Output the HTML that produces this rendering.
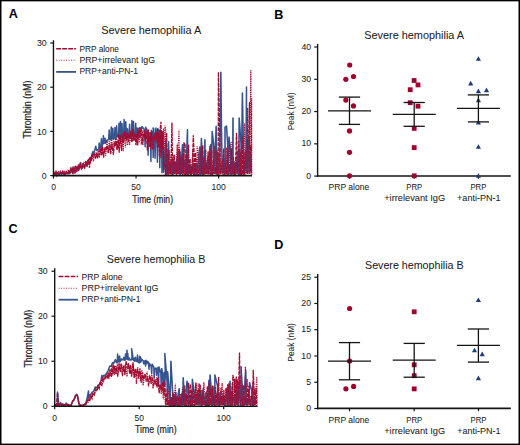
<!DOCTYPE html>
<html><head><meta charset="utf-8"><style>
html,body{margin:0;padding:0;background:#fff;}
body{width:520px;height:445px;overflow:hidden;font-family:"Liberation Sans",sans-serif;}
</style></head><body>
<svg width="520" height="445" viewBox="0 0 520 445" style="display:block;font-family:'Liberation Sans',sans-serif">
<rect x="0" y="0" width="520" height="445" fill="#fff"/>
<text x="8.8" y="18.4" font-size="12.6" text-anchor="start" font-weight="bold" fill="#000" stroke="#000" stroke-width="0">A</text>
<text x="274.3" y="18.6" font-size="12.6" text-anchor="start" font-weight="bold" fill="#000" stroke="#000" stroke-width="0">B</text>
<text x="8.6" y="233.2" font-size="12.6" text-anchor="start" font-weight="bold" fill="#000" stroke="#000" stroke-width="0">C</text>
<text x="274.3" y="249" font-size="12.6" text-anchor="start" font-weight="bold" fill="#000" stroke="#000" stroke-width="0">D</text>
<text x="101.2" y="34.2" font-size="10.6" text-anchor="start" font-weight="normal" fill="#222222" stroke="#222222" stroke-width="0.05" textLength="100.0" lengthAdjust="spacingAndGlyphs">Severe hemophilia A</text>
<text x="364.2" y="38.5" font-size="10.6" text-anchor="start" font-weight="normal" fill="#222222" stroke="#222222" stroke-width="0.05" textLength="99.9" lengthAdjust="spacingAndGlyphs">Severe hemophilia A</text>
<text x="106.8" y="262.8" font-size="10.6" text-anchor="start" font-weight="normal" fill="#222222" stroke="#222222" stroke-width="0.05" textLength="98.6" lengthAdjust="spacingAndGlyphs">Severe hemophilia B</text>
<text x="365.0" y="268.5" font-size="10.6" text-anchor="start" font-weight="normal" fill="#222222" stroke="#222222" stroke-width="0.05" textLength="98.6" lengthAdjust="spacingAndGlyphs">Severe hemophilia B</text>
<path d="M53.8,173.6 L55.8,174.5 L57.1,172.8 L58.7,174.6 L60.6,173.5 L61.7,174.3 L63.2,172.1 L64.2,174.9 L66.1,173.0 L68.2,173.4 L69.2,172.1 L70.9,172.4 L72.4,168.5 L72.9,173.7 L74.9,167.5 L75.5,172.5 L77.6,166.5 L78.4,169.9 L80.7,162.6 L81.5,169.1 L83.4,164.1 L84.3,167.1 L86.7,162.3 L87.4,162.7 L89.9,157.6 L90.4,160.2 L92.8,151.6 L93.6,154.3 L95.8,146.3 L96.6,150.4 L98.7,149.1 L99.2,143.0 L99.7,149.9 L100.9,145.1 L101.4,138.8 L101.9,147.4 L102.9,143.1 L103.4,135.7 L103.9,143.5 L104.6,143.0 L105.1,138.3 L105.6,143.2 L106.3,141.6 L106.8,140.2 L107.3,140.9 L108.7,138.7 L109.2,130.0 L109.7,139.8 L110.8,139.5 L111.3,127.1 L111.8,138.9 L112.4,138.7 L112.9,128.3 L113.4,139.3 L114.5,137.6 L115.0,127.6 L115.5,139.8 L116.1,138.7 L116.6,125.7 L117.1,136.5 L118.5,135.6 L119.0,123.3 L119.5,136.2 L120.0,138.9 L120.5,121.4 L121.0,137.8 L121.5,135.6 L122.0,123.5 L122.5,138.1 L123.6,138.0 L124.1,119.6 L124.6,136.4 L125.3,136.3 L125.8,121.8 L126.3,136.5 L127.0,138.0 L127.5,128.8 L128.0,137.5 L129.1,134.3 L129.6,124.3 L130.1,137.7 L131.4,137.5 L131.9,120.5 L132.4,135.6 L133.0,133.4 L133.5,121.6 L134.0,137.1 L135.2,136.3 L135.7,123.2 L136.2,135.2 L136.7,137.8 L137.2,128.0 L137.7,137.8 L139.1,128.0 L139.6,137.6 L140.1,127.5 L141.3,131.5 L141.8,126.8 L142.3,127.0 L144.6,130.0 L145.1,146.8 L145.6,127.2 L147.6,131.3 L148.1,155.2 L148.6,133.9 L150.4,132.6 L150.9,161.6 L151.4,130.3 L152.7,132.7 L153.2,157.4 L153.7,128.4 L153.0,128.0 L154.6,136.7 L155.1,158.2 L155.6,130.1 L156.0,128.0 L156.9,137.5 L157.4,162.2 L157.9,128.8 L159.3,130.9 L159.8,167.7 L160.3,129.7 L161.5,134.3 L162.0,172.7 L162.5,132.1 L163.6,172.3 L166.0,139.9 L166.5,174.3 L168.6,141.8 L169.1,172.1 L171.8,161.7 L172.3,175.2 L174.1,163.3 L174.7,172.9 L177.4,157.1 L177.9,172.9 L180.1,151.9 L180.5,175.3 L182.5,144.7 L183.0,172.5 L185.3,159.3 L185.9,172.9 L187.5,129.7 L187.6,150.5 L188.0,175.2 L190.7,165.1 L191.2,172.4 L193.4,163.5 L193.8,174.8 L196.4,164.0 L197.0,174.4 L199.8,146.9 L200.3,174.8 L201.4,138.4 L202.6,164.2 L203.1,175.5 L204.8,144.9 L204.9,139.7 L205.3,173.7 L207.5,159.3 L207.9,172.7 L210.8,144.6 L211.2,174.9 L212.2,131.6 L213.6,144.1 L214.1,173.4 L216.2,126.2 L216.6,160.1 L217.1,174.6 L219.1,164.0 L219.6,172.4 L220.8,72.2 L221.8,150.8 L222.3,172.5 L224.5,158.6 L225.0,174.6 L225.0,127.0 L226.5,126.0 L227.7,144.7 L228.1,174.5 L229.0,137.0 L230.5,151.8 L231.0,174.8 L232.7,159.4 L233.0,118.0 L233.1,173.7 L234.9,163.2 L235.5,174.6 L238.1,152.3 L238.7,175.0 L239.2,118.0 L241.0,143.8 L241.4,172.1 L242.4,93.0 L243.3,143.7 L243.9,172.5 L246.0,161.1 L246.5,87.0 L246.5,172.0 L248.6,139.0 L249.0,172.0 L250.8,154.6 L251.4,172.4" fill="none" stroke="#36548f" stroke-width="1.5" stroke-linejoin="round"/>
<path d="M53.8,172.6 L54.9,174.8 L56.1,172.0 L56.9,175.6 L58.2,172.4 L59.1,173.2 L60.2,171.5 L61.3,174.1 L62.1,171.7 L63.5,174.3 L64.8,171.6 L65.6,173.7 L66.7,171.7 L67.5,172.9 L68.5,169.6 L69.9,172.6 L71.4,168.7 L72.7,173.0 L74.1,166.3 L74.9,174.0 L75.8,165.5 L76.9,170.7 L77.8,166.0 L78.8,171.0 L80.0,164.7 L81.4,168.4 L82.8,163.0 L84.3,167.7 L85.1,161.7 L86.6,165.2 L87.7,159.9 L88.6,164.5 L89.8,159.6 L90.5,162.1 L92.0,157.6 L93.4,161.4 L94.2,154.5 L95.5,157.1 L96.2,152.0 L97.0,157.4 L98.0,149.8 L99.4,157.7 L100.9,150.2 L101.7,155.6 L102.4,149.3 L103.5,154.3 L104.3,148.4 L105.7,155.6 L107.1,141.1 L108.1,152.7 L109.3,141.2 L110.4,150.5 L111.6,138.1 L112.7,150.9 L114.0,141.4 L114.9,144.6 L116.1,138.4 L116.8,149.7 L117.9,140.9 L119.1,146.2 L119.9,135.3 L121.0,144.7 L122.0,133.2 L123.2,151.1 L124.0,132.8 L125.5,147.5 L126.5,132.7 L127.5,145.3 L128.4,133.7 L129.6,145.0 L130.6,130.4 L131.4,141.8 L132.6,133.1 L133.5,138.9 L134.4,133.5 L135.5,139.6 L136.3,132.3 L137.2,137.8 L138.3,128.3 L139.1,142.7 L140.3,127.8 L141.4,144.4 L142.2,130.5 L143.1,138.7 L144.4,133.5 L145.4,139.6 L146.6,129.2 L147.6,148.9 L148.5,129.5 L149.4,147.1 L150.5,132.8 L151.5,140.2 L152.3,136.6 L153.8,141.4 L155.2,132.3 L156.7,141.4 L157.6,128.6 L158.9,146.8 L160.0,133.7 L161.0,158.4 L161.8,130.8 L162.7,149.1 L163.5,128.3 L163.8,169.3 L165.0,125.7 L165.6,129.5 L165.9,175.6 L167.6,157.7 L167.9,173.7 L169.4,150.4 L169.8,174.0 L171.1,156.9 L171.5,174.4 L173.2,155.1 L173.5,174.3 L175.2,161.4 L175.6,173.5 L177.3,143.7 L177.5,174.2 L179.0,129.7 L179.3,165.2 L179.5,175.0 L181.0,155.5 L181.3,174.0 L182.5,165.4 L182.7,175.3 L183.9,141.8 L184.3,175.4 L185.7,159.1 L186.0,174.9 L187.6,152.7 L187.9,175.2 L189.3,164.4 L189.6,174.2 L191.0,165.7 L191.3,174.9 L192.8,149.4 L193.1,174.1 L194.7,158.0 L195.0,174.7 L196.6,158.3 L197.0,174.8 L197.2,146.2 L198.3,155.7 L198.6,175.5 L200.0,158.2 L200.4,173.9 L201.8,147.3 L202.2,175.1 L203.6,165.1 L204.0,174.4 L205.8,149.8 L206.1,174.3 L207.6,165.6 L208.0,175.6 L209.2,150.2 L209.4,175.4 L210.6,147.7 L210.9,175.6 L212.6,165.2 L213.0,174.4 L214.7,146.1 L215.0,174.1 L216.2,150.0 L216.5,174.3 L217.7,150.0 L218.1,175.5 L219.4,154.0 L219.8,175.1 L221.1,161.3 L221.4,174.1 L222.8,158.1 L223.1,174.9 L224.5,165.0 L224.8,173.6 L226.2,147.6 L226.5,174.2 L228.2,149.0 L228.5,174.6 L230.1,142.5 L230.4,175.4 L232.0,141.3 L232.3,174.6 L234.0,161.1 L234.3,175.2 L235.8,157.2 L236.1,174.0 L237.9,157.5 L238.3,174.6 L240.0,148.7 L240.3,175.1 L241.4,151.5 L241.7,175.2 L243.1,155.9 L243.5,175.3 L244.6,123.5 L245.3,150.8 L245.6,174.5 L247.4,139.9 L247.6,108.0 L247.7,174.4 L249.3,138.3 L249.6,173.8 L250.8,70.3 L251.5,150.1 L251.6,98.0 L251.7,175.0" fill="none" stroke="#a40d33" stroke-width="1.3" stroke-dasharray="1.2,1"/>
<path d="M53.8,171.6 L55.2,175.5 L56.0,171.7 L57.3,174.0 L58.3,171.9 L59.4,174.2 L60.3,172.1 L61.3,173.8 L62.8,171.2 L63.9,174.5 L64.8,172.6 L65.6,174.4 L66.5,171.7 L67.9,173.8 L69.1,170.4 L69.8,174.2 L70.6,168.7 L72.1,172.1 L73.0,166.7 L74.3,171.2 L75.7,166.2 L77.0,171.9 L78.5,164.3 L79.3,168.8 L80.6,164.9 L81.7,169.3 L83.2,164.0 L84.5,169.2 L85.9,160.9 L87.0,167.0 L88.4,159.2 L89.5,167.8 L90.5,157.0 L91.3,160.7 L92.2,153.8 L93.2,158.0 L94.4,153.5 L95.5,158.6 L96.7,153.0 L97.6,158.5 L99.0,150.3 L99.8,155.2 L101.1,147.2 L101.9,154.3 L102.7,146.6 L103.6,157.6 L105.0,147.3 L106.1,150.3 L107.0,145.3 L108.4,152.9 L109.7,144.6 L110.7,154.1 L111.9,143.3 L113.4,154.8 L114.6,142.5 L115.6,146.1 L116.4,140.7 L117.6,149.7 L118.4,134.0 L119.2,152.7 L120.2,135.2 L121.5,150.9 L122.5,138.0 L123.5,142.6 L124.8,131.0 L126.1,140.5 L127.4,133.3 L128.3,141.8 L129.2,135.2 L130.3,138.8 L131.1,131.5 L132.1,142.2 L132.9,128.7 L133.8,140.9 L134.9,134.6 L136.0,145.3 L136.8,134.1 L137.6,145.5 L138.8,130.5 L140.3,136.3 L141.8,132.5 L142.8,144.9 L144.0,130.2 L145.3,140.7 L146.2,132.1 L147.4,150.4 L148.1,132.6 L148.9,142.0 L149.8,135.5 L150.7,149.4 L151.5,131.8 L152.6,149.5 L153.8,134.6 L155.2,140.4 L156.5,132.2 L157.6,147.8 L158.4,132.3 L159.5,156.2 L160.3,127.5 L161.0,121.8 L161.3,152.9 L162.7,130.9 L163.6,168.7 L165.0,162.2 L165.4,175.3 L166.7,133.0 L167.1,175.6 L168.5,149.9 L168.8,175.0 L170.4,162.3 L170.7,174.6 L172.0,122.6 L172.5,163.0 L172.8,175.1 L174.4,154.7 L174.7,173.9 L176.1,162.9 L176.3,175.4 L178.1,148.9 L178.5,174.1 L179.6,148.8 L180.0,174.0 L181.4,157.3 L181.7,173.9 L183.1,153.2 L183.4,173.6 L183.9,143.9 L185.1,143.3 L185.5,175.0 L186.7,154.9 L187.0,174.7 L188.6,144.8 L189.0,174.0 L190.1,158.9 L190.5,175.3 L192.0,166.1 L192.2,173.9 L193.3,135.2 L194.1,152.8 L194.3,175.1 L195.6,152.6 L195.9,174.8 L197.4,165.4 L197.8,173.9 L199.4,165.7 L199.8,174.3 L201.1,147.4 L201.4,174.3 L202.8,145.1 L203.2,174.5 L204.4,157.8 L204.6,174.5 L206.4,163.8 L206.7,174.7 L208.1,151.6 L208.5,174.3 L210.0,145.9 L210.2,174.2 L211.9,150.5 L212.2,175.2 L213.8,158.7 L214.1,173.8 L215.7,167.6 L216.0,174.3 L217.8,152.3 L218.2,175.6 L218.4,72.2 L220.0,149.8 L220.3,173.8 L222.1,164.8 L222.4,174.1 L223.7,148.4 L224.0,175.2 L225.7,163.5 L226.1,174.7 L227.4,152.0 L227.7,175.2 L229.5,164.7 L229.8,174.6 L231.5,148.5 L231.9,174.5 L233.5,157.0 L233.7,174.5 L234.9,164.0 L235.2,175.2 L236.5,133.0 L236.9,143.6 L237.2,174.1 L238.9,140.8 L239.2,175.2 L240.6,152.1 L240.8,175.6 L242.4,136.8 L242.7,174.3 L244.1,152.2 L244.4,174.9 L246.0,150.6 L246.4,173.4 L247.5,139.8 L247.8,174.0 L249.5,102.0 L249.5,144.6 L249.8,173.5 L251.0,144.9 L251.3,174.3" fill="none" stroke="#a20b32" stroke-width="1.3" stroke-dasharray="4,1"/>
<clipPath id="c1"><rect x="164" y="60" width="92" height="116"/></clipPath>
<path d="M53.8,173.6 L55.8,174.5 L57.1,172.8 L58.7,174.6 L60.6,173.5 L61.7,174.3 L63.2,172.1 L64.2,174.9 L66.1,173.0 L68.2,173.4 L69.2,172.1 L70.9,172.4 L72.4,168.5 L72.9,173.7 L74.9,167.5 L75.5,172.5 L77.6,166.5 L78.4,169.9 L80.7,162.6 L81.5,169.1 L83.4,164.1 L84.3,167.1 L86.7,162.3 L87.4,162.7 L89.9,157.6 L90.4,160.2 L92.8,151.6 L93.6,154.3 L95.8,146.3 L96.6,150.4 L98.7,149.1 L99.2,143.0 L99.7,149.9 L100.9,145.1 L101.4,138.8 L101.9,147.4 L102.9,143.1 L103.4,135.7 L103.9,143.5 L104.6,143.0 L105.1,138.3 L105.6,143.2 L106.3,141.6 L106.8,140.2 L107.3,140.9 L108.7,138.7 L109.2,130.0 L109.7,139.8 L110.8,139.5 L111.3,127.1 L111.8,138.9 L112.4,138.7 L112.9,128.3 L113.4,139.3 L114.5,137.6 L115.0,127.6 L115.5,139.8 L116.1,138.7 L116.6,125.7 L117.1,136.5 L118.5,135.6 L119.0,123.3 L119.5,136.2 L120.0,138.9 L120.5,121.4 L121.0,137.8 L121.5,135.6 L122.0,123.5 L122.5,138.1 L123.6,138.0 L124.1,119.6 L124.6,136.4 L125.3,136.3 L125.8,121.8 L126.3,136.5 L127.0,138.0 L127.5,128.8 L128.0,137.5 L129.1,134.3 L129.6,124.3 L130.1,137.7 L131.4,137.5 L131.9,120.5 L132.4,135.6 L133.0,133.4 L133.5,121.6 L134.0,137.1 L135.2,136.3 L135.7,123.2 L136.2,135.2 L136.7,137.8 L137.2,128.0 L137.7,137.8 L139.1,128.0 L139.6,137.6 L140.1,127.5 L141.3,131.5 L141.8,126.8 L142.3,127.0 L144.6,130.0 L145.1,146.8 L145.6,127.2 L147.6,131.3 L148.1,155.2 L148.6,133.9 L150.4,132.6 L150.9,161.6 L151.4,130.3 L152.7,132.7 L153.2,157.4 L153.7,128.4 L153.0,128.0 L154.6,136.7 L155.1,158.2 L155.6,130.1 L156.0,128.0 L156.9,137.5 L157.4,162.2 L157.9,128.8 L159.3,130.9 L159.8,167.7 L160.3,129.7 L161.5,134.3 L162.0,172.7 L162.5,132.1 L163.6,172.3 L166.0,139.9 L166.5,174.3 L168.6,141.8 L169.1,172.1 L171.8,161.7 L172.3,175.2 L174.1,163.3 L174.7,172.9 L177.4,157.1 L177.9,172.9 L180.1,151.9 L180.5,175.3 L182.5,144.7 L183.0,172.5 L185.3,159.3 L185.9,172.9 L187.5,129.7 L187.6,150.5 L188.0,175.2 L190.7,165.1 L191.2,172.4 L193.4,163.5 L193.8,174.8 L196.4,164.0 L197.0,174.4 L199.8,146.9 L200.3,174.8 L201.4,138.4 L202.6,164.2 L203.1,175.5 L204.8,144.9 L204.9,139.7 L205.3,173.7 L207.5,159.3 L207.9,172.7 L210.8,144.6 L211.2,174.9 L212.2,131.6 L213.6,144.1 L214.1,173.4 L216.2,126.2 L216.6,160.1 L217.1,174.6 L219.1,164.0 L219.6,172.4 L220.8,72.2 L221.8,150.8 L222.3,172.5 L224.5,158.6 L225.0,174.6 L225.0,127.0 L226.5,126.0 L227.7,144.7 L228.1,174.5 L229.0,137.0 L230.5,151.8 L231.0,174.8 L232.7,159.4 L233.0,118.0 L233.1,173.7 L234.9,163.2 L235.5,174.6 L238.1,152.3 L238.7,175.0 L239.2,118.0 L241.0,143.8 L241.4,172.1 L242.4,93.0 L243.3,143.7 L243.9,172.5 L246.0,161.1 L246.5,87.0 L246.5,172.0 L248.6,139.0 L249.0,172.0 L250.8,154.6 L251.4,172.4" fill="none" stroke="#36548f" stroke-width="0.9" stroke-linejoin="round" clip-path="url(#c1)" opacity="0.35"/>
<line x1="50.25" y1="175.6" x2="53.45" y2="175.6" stroke="#151515" stroke-width="1.2"/>
<text x="46.6" y="178.7" font-size="9.4" text-anchor="end" font-weight="normal" fill="#222222" stroke="#222222" stroke-width="0.05" textLength="4.85" lengthAdjust="spacingAndGlyphs">0</text>
<line x1="50.25" y1="131.39999999999998" x2="53.45" y2="131.39999999999998" stroke="#151515" stroke-width="1.2"/>
<text x="46.6" y="134.5" font-size="9.4" text-anchor="end" font-weight="normal" fill="#222222" stroke="#222222" stroke-width="0.05" textLength="9.7" lengthAdjust="spacingAndGlyphs">10</text>
<line x1="50.25" y1="87.19999999999999" x2="53.45" y2="87.19999999999999" stroke="#151515" stroke-width="1.2"/>
<text x="46.6" y="90.3" font-size="9.4" text-anchor="end" font-weight="normal" fill="#222222" stroke="#222222" stroke-width="0.05" textLength="9.7" lengthAdjust="spacingAndGlyphs">20</text>
<line x1="50.25" y1="43.0" x2="53.45" y2="43.0" stroke="#151515" stroke-width="1.2"/>
<text x="46.6" y="46.1" font-size="9.4" text-anchor="end" font-weight="normal" fill="#222222" stroke="#222222" stroke-width="0.05" textLength="9.7" lengthAdjust="spacingAndGlyphs">30</text>
<line x1="53.45" y1="175.6" x2="53.45" y2="178.6" stroke="#151515" stroke-width="1.2"/>
<text x="53.5" y="190.4" font-size="9.6" text-anchor="middle" font-weight="normal" fill="#222222" stroke="#222222" stroke-width="0.05" textLength="4.75" lengthAdjust="spacingAndGlyphs">0</text>
<line x1="136.05" y1="175.6" x2="136.05" y2="178.6" stroke="#151515" stroke-width="1.2"/>
<text x="136.1" y="190.4" font-size="9.6" text-anchor="middle" font-weight="normal" fill="#222222" stroke="#222222" stroke-width="0.05" textLength="9.5" lengthAdjust="spacingAndGlyphs">50</text>
<line x1="218.64999999999998" y1="175.6" x2="218.64999999999998" y2="178.6" stroke="#151515" stroke-width="1.2"/>
<text x="218.6" y="190.4" font-size="9.6" text-anchor="middle" font-weight="normal" fill="#222222" stroke="#222222" stroke-width="0.05" textLength="14.25" lengthAdjust="spacingAndGlyphs">100</text>
<line x1="53.45" y1="40.3" x2="53.45" y2="176.4" stroke="#151515" stroke-width="1.4"/>
<line x1="52.75" y1="175.6" x2="252" y2="175.6" stroke="#151515" stroke-width="1.6"/>
<text x="132.3" y="202.9" font-size="10.7" fill="#222222" stroke="#222222" stroke-width="0.2" textLength="40.7" lengthAdjust="spacingAndGlyphs">Time (min)</text>
<text x="0" y="0" font-size="10.4" text-anchor="middle" fill="#222222" stroke="#222222" stroke-width="0.22" textLength="58.0" lengthAdjust="spacingAndGlyphs" transform="translate(30.8,109.6) rotate(-90)">Thrombin (nM)</text>
<line x1="56.2" y1="48.7" x2="76.0" y2="48.7" stroke="#a20b32" stroke-width="1.4" stroke-dasharray="4.8,1.2"/>
<line x1="56.2" y1="60.2" x2="76.0" y2="60.2" stroke="#b8163f" stroke-width="1.1" stroke-dasharray="1.1,1.35" opacity="0.85"/>
<line x1="56.2" y1="71.9" x2="76.0" y2="71.9" stroke="#36548f" stroke-width="1.8"/>
<text x="79.4" y="51.5" font-size="8.6" text-anchor="start" font-weight="normal" fill="#222222" stroke="#222222" stroke-width="0.05" textLength="39.6" lengthAdjust="spacingAndGlyphs">PRP alone</text>
<text x="79.4" y="62.7" font-size="8.6" text-anchor="start" font-weight="normal" fill="#222222" stroke="#222222" stroke-width="0.05" textLength="75.6" lengthAdjust="spacingAndGlyphs">PRP+irrelevant IgG</text>
<text x="79.4" y="74.2" font-size="8.6" text-anchor="start" font-weight="normal" fill="#222222" stroke="#222222" stroke-width="0.05" textLength="58.6" lengthAdjust="spacingAndGlyphs">PRP+anti-PN-1</text>
<path d="M55.2,404.9 L56.3,405.9 L57.4,404.6 L57.5,392.0 L58.8,404.9 L60.6,402.6 L61.8,405.4 L63.1,404.0 L64.2,406.0 L66.1,403.1 L68.0,405.2 L69.1,405.0 L70.8,405.6 L72.6,401.1 L73.7,399.9 L75.4,395.5 L76.6,394.4 L77.6,395.8 L79.5,406.0 L80.8,404.8 L82.4,405.6 L84.2,404.7 L85.6,404.3 L87.0,398.8 L88.5,391.0 L88.7,397.7 L89.6,394.8 L91.1,394.3 L92.3,391.9 L93.6,391.7 L95.2,387.0 L96.8,387.8 L98.3,384.9 L99.2,384.5 L100.9,381.0 L101.9,375.4 L102.1,380.4 L103.5,375.5 L105.3,375.1 L106.9,372.6 L108.1,370.8 L109.8,365.9 L111.3,366.2 L112.5,362.5 L113.5,363.8 L115.4,359.6 L116.3,362.6 L116.8,360.7 L117.2,362.5 L117.6,354.0 L117.8,360.8 L118.2,356.5 L118.7,362.0 L119.2,361.2 L119.6,355.9 L120.1,361.4 L121.1,360.2 L121.5,358.8 L122.0,359.8 L123.3,359.8 L123.7,357.3 L124.2,360.0 L125.1,360.2 L125.5,354.0 L126.0,359.0 L127.0,350.2 L127.3,359.4 L127.8,353.6 L128.2,359.7 L128.9,359.7 L129.4,358.0 L129.8,360.0 L131.3,359.9 L131.8,357.8 L132.2,359.4 L131.6,348.7 L133.4,360.2 L133.8,358.2 L134.3,361.1 L135.0,360.5 L135.4,357.2 L135.9,361.2 L137.0,361.4 L137.5,355.0 L137.9,361.7 L139.1,362.9 L139.6,356.2 L140.0,362.5 L140.5,357.0 L141.0,362.0 L141.4,359.1 L143.2,360.8 L143.7,363.8 L144.1,361.0 L145.0,360.9 L145.5,366.0 L145.9,360.2 L146.8,363.8 L147.3,361.3 L147.7,361.5 L148.5,362.7 L149.0,369.2 L149.4,363.5 L151.2,366.5 L151.7,373.8 L152.1,364.2 L153.8,367.0 L154.2,378.1 L154.7,368.7 L156.1,368.0 L156.6,375.3 L157.0,369.7 L158.1,367.4 L158.6,384.3 L159.0,367.0 L160.8,373.0 L161.2,386.6 L161.7,368.4 L162.7,373.8 L163.2,386.7 L163.6,374.9 L164.4,372.3 L164.9,384.6 L165.3,374.1 L164.8,353.4 L167.1,381.7 L167.5,403.4 L167.6,371.8 L169.6,393.9 L170.2,405.1 L170.9,361.2 L173.0,398.0 L173.7,405.8 L175.7,392.2 L176.2,404.9 L179.2,388.7 L179.6,405.5 L182.1,393.0 L182.7,405.1 L183.2,377.8 L184.6,397.3 L185.2,405.4 L187.0,381.3 L188.0,385.3 L188.6,404.7 L191.2,396.5 L191.9,405.2 L192.4,379.3 L194.8,396.7 L195.5,404.5 L198.1,394.5 L198.5,404.5 L200.8,390.9 L201.2,406.1 L203.3,388.6 L203.7,404.2 L206.0,392.4 L206.5,404.9 L208.5,395.2 L208.9,380.2 L209.1,405.9 L210.1,374.9 L211.8,396.5 L212.3,406.2 L214.1,386.5 L214.8,404.5 L214.9,374.9 L217.6,386.4 L218.0,405.0 L220.5,392.6 L221.2,404.6 L224.2,399.9 L224.8,404.8 L227.6,391.9 L228.2,405.6 L230.1,381.2 L231.2,395.3 L231.7,404.3 L234.4,396.9 L234.9,405.6 L237.5,386.0 L238.2,405.4 L240.5,388.9 L241.0,405.4 L241.1,366.7 L242.9,398.9 L243.4,404.7 L245.8,370.7 L246.0,396.1 L246.7,404.9 L248.7,400.8 L249.4,404.1 L249.5,382.5 L252.3,392.4 L252.8,406.1 L255.0,398.4 L255.6,404.3" fill="none" stroke="#36548f" stroke-width="1.5" stroke-linejoin="round"/>
<path d="M55.2,404.1 L56.5,405.7 L57.5,404.7 L58.7,405.7 L60.0,404.4 L61.3,406.0 L62.6,404.2 L63.7,405.6 L64.9,404.6 L66.0,405.3 L67.0,404.1 L68.2,405.3 L69.2,405.2 L70.5,406.1 L71.6,403.8 L72.4,402.7 L73.4,399.7 L74.5,399.6 L75.8,395.3 L77.2,395.1 L78.3,400.7 L79.6,405.7 L81.0,405.1 L82.0,405.7 L83.0,404.6 L83.8,405.3 L84.9,404.6 L86.1,404.6 L87.0,401.4 L87.8,402.9 L89.2,397.7 L89.9,399.0 L90.6,396.2 L92.0,396.7 L93.0,393.1 L94.0,395.5 L95.5,390.4 L96.5,390.6 L97.5,386.2 L98.4,387.2 L99.9,383.3 L101.3,384.8 L102.6,378.9 L103.7,381.2 L105.0,376.1 L105.8,377.9 L106.7,373.8 L108.0,378.7 L108.7,372.3 L109.9,376.5 L110.8,368.8 L112.2,375.7 L113.3,364.4 L114.5,375.0 L115.5,365.5 L116.4,374.1 L117.3,363.7 L118.3,371.8 L119.7,362.7 L120.7,372.0 L121.7,364.6 L122.8,370.4 L124.2,364.8 L125.0,373.5 L125.7,365.9 L127.0,376.7 L128.3,363.9 L129.7,370.6 L130.5,365.7 L131.9,374.7 L133.0,363.5 L134.3,377.9 L135.4,368.9 L136.4,383.7 L137.6,367.0 L138.4,378.8 L139.2,371.2 L140.4,381.3 L141.8,370.0 L143.1,385.5 L144.4,374.7 L145.6,379.0 L147.0,371.8 L148.1,382.1 L149.4,376.7 L150.9,381.3 L151.9,374.7 L153.0,388.5 L154.2,380.1 L155.6,384.5 L156.5,377.0 L157.3,387.4 L158.2,378.0 L159.3,388.6 L160.0,384.8 L161.3,393.9 L162.5,386.7 L163.3,399.3 L164.1,380.7 L165.4,404.6 L167.0,394.4 L167.3,405.0 L168.5,390.4 L168.8,405.4 L169.9,399.9 L170.3,406.2 L171.8,398.4 L172.0,406.0 L173.6,393.8 L173.9,405.9 L175.4,383.7 L175.7,406.0 L177.0,396.8 L177.4,405.0 L178.9,397.8 L179.2,405.7 L180.6,393.7 L181.0,405.4 L182.6,387.5 L183.0,404.9 L184.4,388.5 L184.7,406.0 L186.3,394.0 L186.6,406.2 L188.2,399.2 L188.6,406.1 L190.0,400.8 L190.3,405.0 L191.6,390.5 L192.0,405.8 L193.4,387.4 L193.8,406.0 L195.4,399.1 L195.7,404.6 L196.8,383.6 L197.2,405.2 L198.8,388.8 L199.1,405.5 L200.4,384.7 L200.7,405.0 L202.0,389.9 L202.3,405.0 L203.9,382.1 L204.2,387.2 L204.3,405.1 L206.0,399.6 L206.3,406.2 L207.7,399.2 L208.1,406.3 L209.9,383.0 L210.2,404.9 L211.3,398.7 L211.6,406.2 L212.7,385.3 L212.9,405.3 L214.3,398.9 L214.6,406.0 L216.4,394.0 L216.7,405.3 L218.3,392.1 L218.6,406.1 L220.4,397.7 L220.7,404.9 L222.2,383.0 L222.6,405.4 L223.8,389.9 L224.1,404.8 L225.6,387.9 L226.0,405.5 L227.7,384.0 L228.0,404.7 L229.7,383.7 L230.0,405.8 L231.2,393.0 L231.6,405.6 L232.7,393.9 L233.0,405.1 L234.6,378.7 L234.9,405.5 L236.1,378.2 L236.5,405.2 L237.2,379.0 L238.3,387.6 L238.6,405.3 L240.0,376.1 L240.4,405.0 L242.2,384.5 L242.5,406.2 L243.7,397.6 L244.1,404.8 L245.3,388.0 L245.4,366.7 L245.5,404.8 L247.2,398.1 L247.6,404.9 L248.8,391.7 L249.1,404.8 L250.9,396.0 L251.2,405.0 L252.9,382.3 L253.2,406.1 L254.8,389.2 L255.1,405.1 L256.8,376.7 L257.1,404.4" fill="none" stroke="#a40d33" stroke-width="1.3" stroke-dasharray="1.2,1"/>
<path d="M55.2,404.3 L56.5,405.3 L57.5,392.5 L57.9,404.2 L59.4,406.3 L60.4,404.0 L61.6,405.2 L62.4,404.4 L63.3,405.6 L64.5,404.7 L65.4,405.9 L66.8,404.2 L67.6,405.3 L68.5,404.6 L69.3,406.3 L70.7,405.6 L71.5,404.1 L72.9,401.0 L74.4,399.4 L75.6,395.7 L77.1,394.8 L78.5,402.0 L79.5,406.0 L80.3,405.2 L81.1,406.0 L82.3,405.0 L83.5,405.9 L84.4,404.2 L85.5,405.3 L86.6,401.7 L87.4,401.9 L88.1,399.3 L89.5,401.5 L90.8,395.9 L92.0,398.5 L92.7,393.7 L94.2,395.1 L95.5,389.1 L96.9,391.2 L97.9,386.4 L99.2,388.7 L100.5,382.1 L101.9,385.2 L103.3,379.1 L104.3,380.0 L105.7,375.3 L107.1,377.6 L108.1,372.5 L108.9,378.6 L109.8,369.4 L111.3,376.9 L112.0,365.4 L113.1,374.1 L114.0,365.4 L115.4,373.6 L116.4,367.1 L117.8,376.7 L118.9,363.2 L119.8,371.1 L121.2,363.6 L122.5,376.3 L123.6,365.5 L124.9,374.9 L126.0,361.0 L127.4,368.7 L128.4,363.2 L129.7,374.3 L130.6,364.6 L131.5,376.8 L133.0,362.4 L134.2,377.7 L135.1,368.9 L136.1,375.8 L137.4,368.5 L138.8,377.2 L140.0,368.4 L141.3,382.7 L142.6,372.4 L143.7,379.5 L144.9,373.8 L146.3,381.7 L147.5,376.5 L148.6,386.3 L149.9,375.3 L151.2,383.8 L152.5,377.2 L153.8,385.0 L155.1,379.2 L156.5,386.5 L157.7,377.6 L159.2,393.1 L160.3,384.4 L161.6,390.5 L162.7,382.3 L164.0,395.2 L164.8,382.6 L166.0,405.1 L167.4,388.8 L167.8,405.2 L169.4,400.8 L169.7,405.5 L171.3,397.0 L171.6,405.2 L172.8,392.1 L173.1,406.2 L174.3,395.2 L174.5,406.0 L175.7,392.4 L176.0,405.3 L177.5,396.8 L177.9,406.3 L179.3,396.0 L179.6,406.1 L181.4,394.2 L181.6,405.3 L182.8,390.8 L183.1,405.3 L184.9,385.5 L185.2,404.9 L186.8,394.3 L187.0,405.3 L188.6,382.8 L189.0,405.3 L190.3,384.1 L190.6,406.1 L192.1,389.5 L192.4,405.2 L194.1,394.1 L194.5,405.9 L195.8,382.5 L196.1,404.7 L197.9,389.9 L198.1,404.6 L199.1,383.3 L199.6,393.4 L199.9,404.6 L201.4,395.9 L201.7,406.1 L203.3,392.8 L203.6,405.0 L205.3,401.2 L205.6,405.8 L207.4,386.2 L207.7,405.8 L208.9,382.2 L209.2,405.3 L210.7,388.9 L211.0,405.0 L212.2,386.7 L212.5,405.4 L213.9,395.7 L214.2,405.5 L215.6,387.0 L215.9,406.2 L217.2,392.6 L217.6,404.8 L218.6,377.0 L219.1,401.2 L219.4,405.6 L221.0,387.7 L221.3,405.5 L223.1,393.9 L223.4,404.9 L224.7,395.7 L225.0,406.2 L226.8,387.9 L227.1,405.8 L228.8,383.2 L229.0,405.5 L230.5,390.6 L230.8,406.0 L232.4,382.9 L232.6,405.9 L232.8,374.9 L234.4,382.1 L234.7,406.2 L236.3,376.5 L236.7,404.8 L237.9,379.8 L238.2,404.9 L239.5,352.6 L240.0,383.0 L240.2,405.7 L242.0,396.6 L242.4,405.4 L243.6,385.2 L243.8,406.1 L245.2,398.5 L245.5,405.1 L247.1,378.9 L247.4,405.4 L248.8,385.7 L249.1,404.3 L250.5,398.9 L250.8,406.0 L252.4,388.0 L252.8,405.1 L253.2,369.9 L254.3,393.9 L254.7,405.8 L256.3,387.7 L256.6,405.8" fill="none" stroke="#a20b32" stroke-width="1.3" stroke-dasharray="4,1"/>
<clipPath id="c2"><rect x="166" y="330" width="94" height="76"/></clipPath>
<path d="M55.2,404.9 L56.3,405.9 L57.4,404.6 L57.5,392.0 L58.8,404.9 L60.6,402.6 L61.8,405.4 L63.1,404.0 L64.2,406.0 L66.1,403.1 L68.0,405.2 L69.1,405.0 L70.8,405.6 L72.6,401.1 L73.7,399.9 L75.4,395.5 L76.6,394.4 L77.6,395.8 L79.5,406.0 L80.8,404.8 L82.4,405.6 L84.2,404.7 L85.6,404.3 L87.0,398.8 L88.5,391.0 L88.7,397.7 L89.6,394.8 L91.1,394.3 L92.3,391.9 L93.6,391.7 L95.2,387.0 L96.8,387.8 L98.3,384.9 L99.2,384.5 L100.9,381.0 L101.9,375.4 L102.1,380.4 L103.5,375.5 L105.3,375.1 L106.9,372.6 L108.1,370.8 L109.8,365.9 L111.3,366.2 L112.5,362.5 L113.5,363.8 L115.4,359.6 L116.3,362.6 L116.8,360.7 L117.2,362.5 L117.6,354.0 L117.8,360.8 L118.2,356.5 L118.7,362.0 L119.2,361.2 L119.6,355.9 L120.1,361.4 L121.1,360.2 L121.5,358.8 L122.0,359.8 L123.3,359.8 L123.7,357.3 L124.2,360.0 L125.1,360.2 L125.5,354.0 L126.0,359.0 L127.0,350.2 L127.3,359.4 L127.8,353.6 L128.2,359.7 L128.9,359.7 L129.4,358.0 L129.8,360.0 L131.3,359.9 L131.8,357.8 L132.2,359.4 L131.6,348.7 L133.4,360.2 L133.8,358.2 L134.3,361.1 L135.0,360.5 L135.4,357.2 L135.9,361.2 L137.0,361.4 L137.5,355.0 L137.9,361.7 L139.1,362.9 L139.6,356.2 L140.0,362.5 L140.5,357.0 L141.0,362.0 L141.4,359.1 L143.2,360.8 L143.7,363.8 L144.1,361.0 L145.0,360.9 L145.5,366.0 L145.9,360.2 L146.8,363.8 L147.3,361.3 L147.7,361.5 L148.5,362.7 L149.0,369.2 L149.4,363.5 L151.2,366.5 L151.7,373.8 L152.1,364.2 L153.8,367.0 L154.2,378.1 L154.7,368.7 L156.1,368.0 L156.6,375.3 L157.0,369.7 L158.1,367.4 L158.6,384.3 L159.0,367.0 L160.8,373.0 L161.2,386.6 L161.7,368.4 L162.7,373.8 L163.2,386.7 L163.6,374.9 L164.4,372.3 L164.9,384.6 L165.3,374.1 L164.8,353.4 L167.1,381.7 L167.5,403.4 L167.6,371.8 L169.6,393.9 L170.2,405.1 L170.9,361.2 L173.0,398.0 L173.7,405.8 L175.7,392.2 L176.2,404.9 L179.2,388.7 L179.6,405.5 L182.1,393.0 L182.7,405.1 L183.2,377.8 L184.6,397.3 L185.2,405.4 L187.0,381.3 L188.0,385.3 L188.6,404.7 L191.2,396.5 L191.9,405.2 L192.4,379.3 L194.8,396.7 L195.5,404.5 L198.1,394.5 L198.5,404.5 L200.8,390.9 L201.2,406.1 L203.3,388.6 L203.7,404.2 L206.0,392.4 L206.5,404.9 L208.5,395.2 L208.9,380.2 L209.1,405.9 L210.1,374.9 L211.8,396.5 L212.3,406.2 L214.1,386.5 L214.8,404.5 L214.9,374.9 L217.6,386.4 L218.0,405.0 L220.5,392.6 L221.2,404.6 L224.2,399.9 L224.8,404.8 L227.6,391.9 L228.2,405.6 L230.1,381.2 L231.2,395.3 L231.7,404.3 L234.4,396.9 L234.9,405.6 L237.5,386.0 L238.2,405.4 L240.5,388.9 L241.0,405.4 L241.1,366.7 L242.9,398.9 L243.4,404.7 L245.8,370.7 L246.0,396.1 L246.7,404.9 L248.7,400.8 L249.4,404.1 L249.5,382.5 L252.3,392.4 L252.8,406.1 L255.0,398.4 L255.6,404.3" fill="none" stroke="#36548f" stroke-width="0.9" stroke-linejoin="round" clip-path="url(#c2)" opacity="0.35"/>
<line x1="51.5" y1="406.3" x2="54.7" y2="406.3" stroke="#151515" stroke-width="1.2"/>
<text x="47.6" y="409.4" font-size="9.4" text-anchor="end" font-weight="normal" fill="#222222" stroke="#222222" stroke-width="0.05" textLength="4.85" lengthAdjust="spacingAndGlyphs">0</text>
<line x1="51.5" y1="361.27" x2="54.7" y2="361.27" stroke="#151515" stroke-width="1.2"/>
<text x="47.6" y="364.4" font-size="9.4" text-anchor="end" font-weight="normal" fill="#222222" stroke="#222222" stroke-width="0.05" textLength="9.7" lengthAdjust="spacingAndGlyphs">10</text>
<line x1="51.5" y1="316.24" x2="54.7" y2="316.24" stroke="#151515" stroke-width="1.2"/>
<text x="47.6" y="319.3" font-size="9.4" text-anchor="end" font-weight="normal" fill="#222222" stroke="#222222" stroke-width="0.05" textLength="9.7" lengthAdjust="spacingAndGlyphs">20</text>
<line x1="51.5" y1="271.21000000000004" x2="54.7" y2="271.21000000000004" stroke="#151515" stroke-width="1.2"/>
<text x="47.6" y="274.3" font-size="9.4" text-anchor="end" font-weight="normal" fill="#222222" stroke="#222222" stroke-width="0.05" textLength="9.7" lengthAdjust="spacingAndGlyphs">30</text>
<line x1="54.7" y1="406.3" x2="54.7" y2="409.3" stroke="#151515" stroke-width="1.2"/>
<text x="54.7" y="420.7" font-size="9.6" text-anchor="middle" font-weight="normal" fill="#222222" stroke="#222222" stroke-width="0.05" textLength="4.75" lengthAdjust="spacingAndGlyphs">0</text>
<line x1="139.2" y1="406.3" x2="139.2" y2="409.3" stroke="#151515" stroke-width="1.2"/>
<text x="139.2" y="420.7" font-size="9.6" text-anchor="middle" font-weight="normal" fill="#222222" stroke="#222222" stroke-width="0.05" textLength="9.5" lengthAdjust="spacingAndGlyphs">50</text>
<line x1="223.7" y1="406.3" x2="223.7" y2="409.3" stroke="#151515" stroke-width="1.2"/>
<text x="223.7" y="420.7" font-size="9.6" text-anchor="middle" font-weight="normal" fill="#222222" stroke="#222222" stroke-width="0.05" textLength="14.25" lengthAdjust="spacingAndGlyphs">100</text>
<line x1="54.7" y1="268.2" x2="54.7" y2="407.1" stroke="#151515" stroke-width="1.4"/>
<line x1="54.0" y1="406.3" x2="257.6" y2="406.3" stroke="#151515" stroke-width="1.6"/>
<text x="135.0" y="432.8" font-size="10.7" fill="#222222" stroke="#222222" stroke-width="0.2" textLength="41.7" lengthAdjust="spacingAndGlyphs">Time (min)</text>
<text x="0" y="0" font-size="10.4" text-anchor="middle" fill="#222222" stroke="#222222" stroke-width="0.22" textLength="57.8" lengthAdjust="spacingAndGlyphs" transform="translate(31.7,338.7) rotate(-90)">Thrombin (nM)</text>
<line x1="58.6" y1="276.5" x2="78.0" y2="276.5" stroke="#a20b32" stroke-width="1.4" stroke-dasharray="4.8,1.2"/>
<line x1="58.6" y1="288.3" x2="78.0" y2="288.3" stroke="#b8163f" stroke-width="1.1" stroke-dasharray="1.1,1.35" opacity="0.85"/>
<line x1="58.6" y1="299.7" x2="78.0" y2="299.7" stroke="#36548f" stroke-width="1.8"/>
<text x="81.5" y="279.5" font-size="8.6" text-anchor="start" font-weight="normal" fill="#222222" stroke="#222222" stroke-width="0.05" textLength="41.0" lengthAdjust="spacingAndGlyphs">PRP alone</text>
<text x="81.5" y="291.0" font-size="8.6" text-anchor="start" font-weight="normal" fill="#222222" stroke="#222222" stroke-width="0.05" textLength="77.0" lengthAdjust="spacingAndGlyphs">PRP+irrelevant IgG</text>
<text x="81.5" y="302.4" font-size="8.6" text-anchor="start" font-weight="normal" fill="#222222" stroke="#222222" stroke-width="0.05" textLength="59.0" lengthAdjust="spacingAndGlyphs">PRP+anti-PN-1</text>
<line x1="314.20000000000005" y1="176.1" x2="317.6" y2="176.1" stroke="#151515" stroke-width="1.2"/>
<text x="311.2" y="178.7" font-size="9.4" text-anchor="end" font-weight="normal" fill="#222222" stroke="#222222" stroke-width="0.05" textLength="4.85" lengthAdjust="spacingAndGlyphs">0</text>
<line x1="314.20000000000005" y1="143.83" x2="317.6" y2="143.83" stroke="#151515" stroke-width="1.2"/>
<text x="311.2" y="146.4" font-size="9.4" text-anchor="end" font-weight="normal" fill="#222222" stroke="#222222" stroke-width="0.05" textLength="9.7" lengthAdjust="spacingAndGlyphs">10</text>
<line x1="314.20000000000005" y1="111.56" x2="317.6" y2="111.56" stroke="#151515" stroke-width="1.2"/>
<text x="311.2" y="114.2" font-size="9.4" text-anchor="end" font-weight="normal" fill="#222222" stroke="#222222" stroke-width="0.05" textLength="9.7" lengthAdjust="spacingAndGlyphs">20</text>
<line x1="314.20000000000005" y1="79.29" x2="317.6" y2="79.29" stroke="#151515" stroke-width="1.2"/>
<text x="311.2" y="81.9" font-size="9.4" text-anchor="end" font-weight="normal" fill="#222222" stroke="#222222" stroke-width="0.05" textLength="9.7" lengthAdjust="spacingAndGlyphs">30</text>
<line x1="314.20000000000005" y1="47.02" x2="317.6" y2="47.02" stroke="#151515" stroke-width="1.2"/>
<text x="311.2" y="49.6" font-size="9.4" text-anchor="end" font-weight="normal" fill="#222222" stroke="#222222" stroke-width="0.05" textLength="9.7" lengthAdjust="spacingAndGlyphs">40</text>
<line x1="317.6" y1="43.9" x2="317.6" y2="176.8" stroke="#151515" stroke-width="1.4"/>
<line x1="316.90000000000003" y1="176.0" x2="510.8" y2="176.0" stroke="#151515" stroke-width="1.6"/>
<line x1="349.5" y1="176.0" x2="349.5" y2="178.8" stroke="#151515" stroke-width="1.2"/>
<line x1="414.2" y1="176.0" x2="414.2" y2="178.8" stroke="#151515" stroke-width="1.2"/>
<line x1="478.4" y1="176.0" x2="478.4" y2="178.8" stroke="#151515" stroke-width="1.2"/>
<text x="348.9" y="190.0" font-size="8.8" text-anchor="middle" font-weight="normal" fill="#222222" stroke="#222222" stroke-width="0.05" textLength="40.8" lengthAdjust="spacingAndGlyphs">PRP alone</text>
<text x="414.2" y="190.0" font-size="8.8" text-anchor="middle" font-weight="normal" fill="#222222" stroke="#222222" stroke-width="0.05" textLength="16.0" lengthAdjust="spacingAndGlyphs">PRP</text>
<text x="414.7" y="201.4" font-size="8.8" text-anchor="middle" font-weight="normal" fill="#222222" stroke="#222222" stroke-width="0.05" textLength="61.0" lengthAdjust="spacingAndGlyphs">+irrelevant IgG</text>
<text x="478.4" y="190.0" font-size="8.8" text-anchor="middle" font-weight="normal" fill="#222222" stroke="#222222" stroke-width="0.05" textLength="16.0" lengthAdjust="spacingAndGlyphs">PRP</text>
<text x="478.79999999999995" y="201.4" font-size="8.8" text-anchor="middle" font-weight="normal" fill="#222222" stroke="#222222" stroke-width="0.05" textLength="43.4" lengthAdjust="spacingAndGlyphs">+anti-PN-1</text>
<text x="0" y="0" font-size="9.4" text-anchor="middle" fill="#222222" stroke="#222222" stroke-width="0.05" textLength="37.8" lengthAdjust="spacingAndGlyphs" transform="translate(293.6,111.3) rotate(-90)">Peak (nM)</text>
<circle cx="349.7" cy="65.0" r="2.6" fill="#a1022d"/>
<circle cx="345.8" cy="79.3" r="2.6" fill="#a1022d"/>
<circle cx="353.5" cy="76.5" r="2.6" fill="#a1022d"/>
<circle cx="345.8" cy="100.1" r="2.6" fill="#a1022d"/>
<circle cx="353.5" cy="105.9" r="2.6" fill="#a1022d"/>
<circle cx="349.5" cy="130.9" r="2.6" fill="#a1022d"/>
<circle cx="349.5" cy="152.3" r="2.6" fill="#a1022d"/>
<circle cx="349.5" cy="175.8" r="2.6" fill="#a1022d"/>
<line x1="328.0" y1="110.8" x2="371.0" y2="110.8" stroke="#151515" stroke-width="1.3"/>
<line x1="338.9" y1="97.1" x2="360.1" y2="97.1" stroke="#151515" stroke-width="1.3"/>
<line x1="338.9" y1="124.4" x2="360.1" y2="124.4" stroke="#151515" stroke-width="1.3"/>
<line x1="349.5" y1="97.1" x2="349.5" y2="124.4" stroke="#151515" stroke-width="1.3"/>
<rect x="411.70" y="78.10" width="4.8" height="4.8" fill="#a1022d"/>
<rect x="415.60" y="82.50" width="4.8" height="4.8" fill="#a1022d"/>
<rect x="407.80" y="87.30" width="4.8" height="4.8" fill="#a1022d"/>
<rect x="407.80" y="100.30" width="4.8" height="4.8" fill="#a1022d"/>
<rect x="415.60" y="103.80" width="4.8" height="4.8" fill="#a1022d"/>
<rect x="411.80" y="126.00" width="4.8" height="4.8" fill="#a1022d"/>
<rect x="411.80" y="145.20" width="4.8" height="4.8" fill="#a1022d"/>
<rect x="411.80" y="173.40" width="4.8" height="4.8" fill="#a1022d"/>
<line x1="392.7" y1="114.4" x2="435.7" y2="114.4" stroke="#151515" stroke-width="1.3"/>
<line x1="403.59999999999997" y1="102.5" x2="424.8" y2="102.5" stroke="#151515" stroke-width="1.3"/>
<line x1="403.59999999999997" y1="126.3" x2="424.8" y2="126.3" stroke="#151515" stroke-width="1.3"/>
<line x1="414.2" y1="102.5" x2="414.2" y2="126.3" stroke="#151515" stroke-width="1.3"/>
<path d="M478.40,56.19 L481.00,60.87 L475.80,60.87 Z" fill="#1d3c80"/>
<path d="M470.70,80.79 L473.30,85.47 L468.10,85.47 Z" fill="#1d3c80"/>
<path d="M478.40,88.49 L481.00,93.17 L475.80,93.17 Z" fill="#1d3c80"/>
<path d="M486.50,87.59 L489.10,92.27 L483.90,92.27 Z" fill="#1d3c80"/>
<path d="M478.40,97.49 L481.00,102.17 L475.80,102.17 Z" fill="#1d3c80"/>
<path d="M478.40,119.89 L481.00,124.57 L475.80,124.57 Z" fill="#1d3c80"/>
<path d="M478.40,144.19 L481.00,148.87 L475.80,148.87 Z" fill="#1d3c80"/>
<path d="M478.40,173.19 L481.00,177.87 L475.80,177.87 Z" fill="#1d3c80"/>
<line x1="456.9" y1="108.4" x2="499.9" y2="108.4" stroke="#151515" stroke-width="1.3"/>
<line x1="467.79999999999995" y1="94.9" x2="489.0" y2="94.9" stroke="#151515" stroke-width="1.3"/>
<line x1="467.79999999999995" y1="121.9" x2="489.0" y2="121.9" stroke="#151515" stroke-width="1.3"/>
<line x1="478.4" y1="94.9" x2="478.4" y2="121.9" stroke="#151515" stroke-width="1.3"/>
<line x1="314.3" y1="408.5" x2="317.7" y2="408.5" stroke="#151515" stroke-width="1.2"/>
<text x="311.0" y="411.1" font-size="9.4" text-anchor="end" font-weight="normal" fill="#222222" stroke="#222222" stroke-width="0.05" textLength="4.85" lengthAdjust="spacingAndGlyphs">0</text>
<line x1="314.3" y1="382.24" x2="317.7" y2="382.24" stroke="#151515" stroke-width="1.2"/>
<text x="311.0" y="384.8" font-size="9.4" text-anchor="end" font-weight="normal" fill="#222222" stroke="#222222" stroke-width="0.05" textLength="4.85" lengthAdjust="spacingAndGlyphs">5</text>
<line x1="314.3" y1="355.98" x2="317.7" y2="355.98" stroke="#151515" stroke-width="1.2"/>
<text x="311.0" y="358.6" font-size="9.4" text-anchor="end" font-weight="normal" fill="#222222" stroke="#222222" stroke-width="0.05" textLength="9.7" lengthAdjust="spacingAndGlyphs">10</text>
<line x1="314.3" y1="329.72" x2="317.7" y2="329.72" stroke="#151515" stroke-width="1.2"/>
<text x="311.0" y="332.3" font-size="9.4" text-anchor="end" font-weight="normal" fill="#222222" stroke="#222222" stroke-width="0.05" textLength="9.7" lengthAdjust="spacingAndGlyphs">15</text>
<line x1="314.3" y1="303.46" x2="317.7" y2="303.46" stroke="#151515" stroke-width="1.2"/>
<text x="311.0" y="306.1" font-size="9.4" text-anchor="end" font-weight="normal" fill="#222222" stroke="#222222" stroke-width="0.05" textLength="9.7" lengthAdjust="spacingAndGlyphs">20</text>
<line x1="314.3" y1="277.2" x2="317.7" y2="277.2" stroke="#151515" stroke-width="1.2"/>
<text x="311.0" y="279.8" font-size="9.4" text-anchor="end" font-weight="normal" fill="#222222" stroke="#222222" stroke-width="0.05" textLength="9.7" lengthAdjust="spacingAndGlyphs">25</text>
<line x1="317.7" y1="274.1" x2="317.7" y2="409.2" stroke="#151515" stroke-width="1.4"/>
<line x1="317.0" y1="408.4" x2="510.8" y2="408.4" stroke="#151515" stroke-width="1.6"/>
<line x1="349.5" y1="408.4" x2="349.5" y2="411.2" stroke="#151515" stroke-width="1.2"/>
<line x1="414.2" y1="408.4" x2="414.2" y2="411.2" stroke="#151515" stroke-width="1.2"/>
<line x1="478.5" y1="408.4" x2="478.5" y2="411.2" stroke="#151515" stroke-width="1.2"/>
<text x="348.9" y="422.6" font-size="8.8" text-anchor="middle" font-weight="normal" fill="#222222" stroke="#222222" stroke-width="0.05" textLength="40.8" lengthAdjust="spacingAndGlyphs">PRP alone</text>
<text x="414.2" y="422.6" font-size="8.8" text-anchor="middle" font-weight="normal" fill="#222222" stroke="#222222" stroke-width="0.05" textLength="16.0" lengthAdjust="spacingAndGlyphs">PRP</text>
<text x="414.7" y="433.6" font-size="8.8" text-anchor="middle" font-weight="normal" fill="#222222" stroke="#222222" stroke-width="0.05" textLength="61.0" lengthAdjust="spacingAndGlyphs">+irrelevant IgG</text>
<text x="478.5" y="422.6" font-size="8.8" text-anchor="middle" font-weight="normal" fill="#222222" stroke="#222222" stroke-width="0.05" textLength="16.0" lengthAdjust="spacingAndGlyphs">PRP</text>
<text x="478.9" y="433.6" font-size="8.8" text-anchor="middle" font-weight="normal" fill="#222222" stroke="#222222" stroke-width="0.05" textLength="43.4" lengthAdjust="spacingAndGlyphs">+anti-PN-1</text>
<text x="0" y="0" font-size="9.4" text-anchor="middle" fill="#222222" stroke="#222222" stroke-width="0.05" textLength="38.6" lengthAdjust="spacingAndGlyphs" transform="translate(293.9,342.4) rotate(-90)">Peak (nM)</text>
<circle cx="349.6" cy="308.5" r="2.6" fill="#a1022d"/>
<circle cx="349.6" cy="361.0" r="2.6" fill="#a1022d"/>
<circle cx="345.9" cy="388.8" r="2.6" fill="#a1022d"/>
<circle cx="353.6" cy="386.4" r="2.6" fill="#a1022d"/>
<line x1="328.0" y1="361.1" x2="371.0" y2="361.1" stroke="#151515" stroke-width="1.3"/>
<line x1="338.9" y1="342.6" x2="360.1" y2="342.6" stroke="#151515" stroke-width="1.3"/>
<line x1="338.9" y1="379.8" x2="360.1" y2="379.8" stroke="#151515" stroke-width="1.3"/>
<line x1="349.5" y1="342.6" x2="349.5" y2="379.8" stroke="#151515" stroke-width="1.3"/>
<rect x="411.80" y="309.40" width="4.8" height="4.8" fill="#a1022d"/>
<rect x="411.80" y="362.40" width="4.8" height="4.8" fill="#a1022d"/>
<rect x="411.80" y="373.30" width="4.8" height="4.8" fill="#a1022d"/>
<rect x="411.80" y="386.50" width="4.8" height="4.8" fill="#a1022d"/>
<line x1="392.7" y1="360.2" x2="435.7" y2="360.2" stroke="#151515" stroke-width="1.3"/>
<line x1="403.59999999999997" y1="343.4" x2="424.8" y2="343.4" stroke="#151515" stroke-width="1.3"/>
<line x1="403.59999999999997" y1="377.2" x2="424.8" y2="377.2" stroke="#151515" stroke-width="1.3"/>
<line x1="414.2" y1="343.4" x2="414.2" y2="377.2" stroke="#151515" stroke-width="1.3"/>
<path d="M478.40,297.39 L481.00,302.07 L475.80,302.07 Z" fill="#1d3c80"/>
<path d="M474.50,347.69 L477.10,352.37 L471.90,352.37 Z" fill="#1d3c80"/>
<path d="M482.20,351.49 L484.80,356.17 L479.60,356.17 Z" fill="#1d3c80"/>
<path d="M478.40,375.49 L481.00,380.17 L475.80,380.17 Z" fill="#1d3c80"/>
<line x1="456.9" y1="345.3" x2="499.9" y2="345.3" stroke="#151515" stroke-width="1.3"/>
<line x1="467.79999999999995" y1="329.0" x2="489.0" y2="329.0" stroke="#151515" stroke-width="1.3"/>
<line x1="467.79999999999995" y1="362.1" x2="489.0" y2="362.1" stroke="#151515" stroke-width="1.3"/>
<line x1="478.4" y1="329.0" x2="478.4" y2="362.1" stroke="#151515" stroke-width="1.3"/>
<rect x="0" y="0" width="520" height="1.35" fill="#000"/>
<rect x="0" y="0" width="1.5" height="445" fill="#000"/>
<rect x="518.5" y="0" width="1.5" height="445" fill="#000"/>
<rect x="0" y="443.6" width="520" height="1.4" fill="#000"/>
</svg>
</body></html>
